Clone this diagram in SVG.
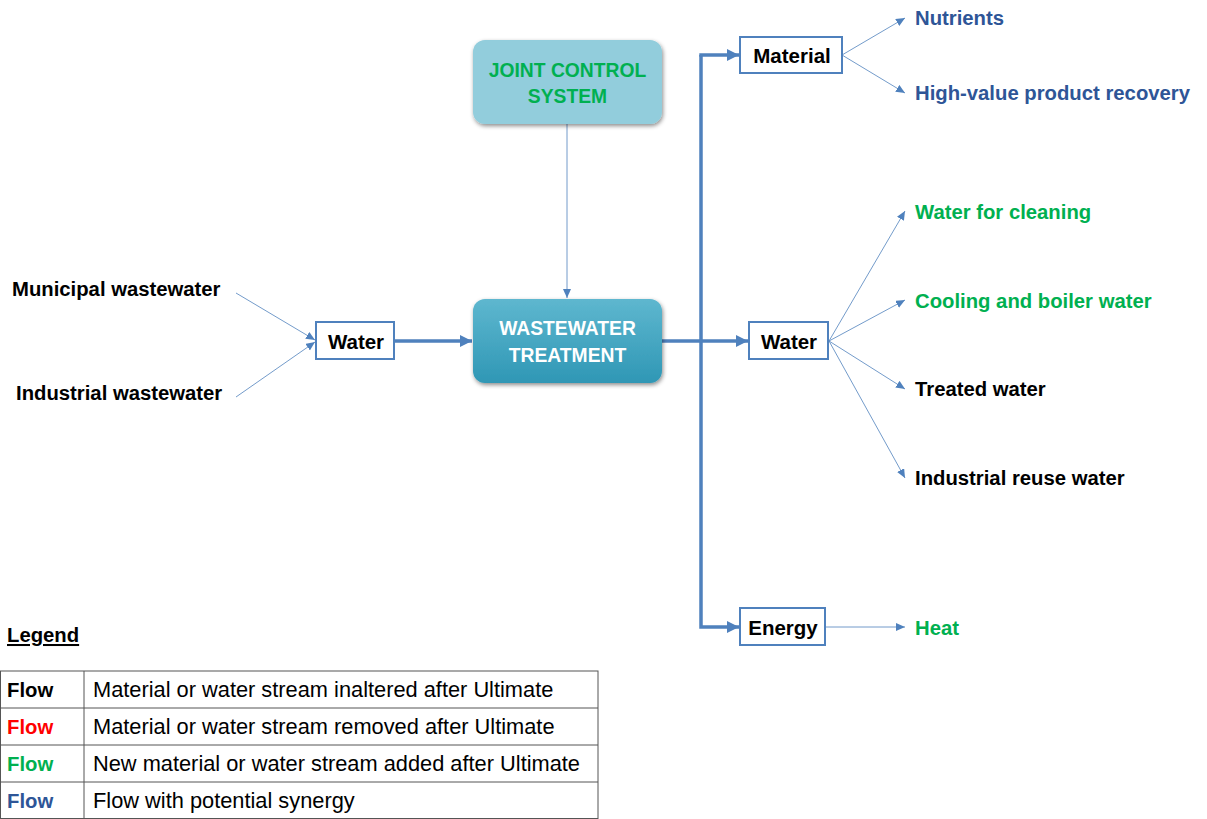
<svg xmlns="http://www.w3.org/2000/svg" width="1207" height="819" viewBox="0 0 1207 819">
<style>
text{font-family:"Liberation Sans",Arial,sans-serif;}
.lbl{font-size:20.3px;font-weight:bold;fill:#000;}
.bx{font-size:20.5px;font-weight:bold;fill:#000;}
.ctr{font-size:19.3px;font-weight:bold;}
.blue{fill:#2E5597;}
.green{fill:#00B050;}
.red{fill:#FF0000;}
.box{fill:#fff;stroke:#4F81BD;stroke-width:2;}
.thin{stroke:#4F81BD;stroke-width:0.8;fill:none;marker-end:url(#sa);}
.thick{stroke:#4F81BD;stroke-width:3.5;fill:none;}
.leg{font-size:21.8px;fill:#000;}
.grid{stroke:#555;stroke-width:1;fill:none;}
</style>
<defs>
<marker id="sa" markerUnits="userSpaceOnUse" markerWidth="10" markerHeight="10" refX="9" refY="4" orient="auto"><path d="M0,0 L9,4 L0,8 z" fill="#4F81BD"/></marker>
<marker id="la" markerUnits="userSpaceOnUse" markerWidth="14" markerHeight="14" refX="12" refY="6" orient="auto"><path d="M0,0 L12,6 L0,12 z" fill="#4F81BD"/></marker>
<linearGradient id="wt" x1="0" y1="0" x2="0" y2="1"><stop offset="0" stop-color="#5EB7CF"/><stop offset="1" stop-color="#2F97B5"/></linearGradient>
<filter id="sh" x="-10%" y="-10%" width="120%" height="130%"><feDropShadow dx="1" dy="2" stdDeviation="2" flood-color="#000" flood-opacity="0.45"/></filter>
</defs>

<g id="connectors">
<line class="thin" x1="567" y1="124" x2="567" y2="298"/>
<line class="thin" x1="236" y1="293" x2="315" y2="340"/>
<line class="thin" x1="236" y1="397" x2="315" y2="342"/>
<line class="thick" x1="394" y1="341" x2="472" y2="341" marker-end="url(#la)"/>
<line class="thick" x1="662" y1="341" x2="748" y2="341" marker-end="url(#la)"/>
<polyline class="thick" points="701,55 701,627 739,627" marker-end="url(#la)"/>
<line class="thick" x1="699.3" y1="55" x2="739" y2="55" marker-end="url(#la)"/>
<line class="thin" x1="842" y1="55" x2="905" y2="18"/>
<line class="thin" x1="842" y1="55" x2="905" y2="93"/>
<line class="thin" x1="829" y1="341" x2="905" y2="211"/>
<line class="thin" x1="829" y1="341" x2="905" y2="300"/>
<line class="thin" x1="829" y1="341" x2="905" y2="389"/>
<line class="thin" x1="829" y1="341" x2="905" y2="478"/>
<line class="thin" x1="826" y1="627" x2="905" y2="627"/>
</g>

<g id="joint-control">
<rect x="473" y="40" width="189" height="84" rx="12" fill="#92CDDC" filter="url(#sh)"/>
<text x="567.5" y="77" text-anchor="middle" class="ctr green">JOINT CONTROL</text>
<text x="567.5" y="103" text-anchor="middle" class="ctr green">SYSTEM</text>
</g>

<g id="wastewater-treatment">
<rect x="473" y="299" width="189" height="84" rx="12" fill="url(#wt)" filter="url(#sh)"/>
<text x="567.5" y="335" text-anchor="middle" class="ctr" style="fill:#fff">WASTEWATER</text>
<text x="567.5" y="362" text-anchor="middle" class="ctr" style="fill:#fff">TREATMENT</text>
</g>

<g id="municipal"><text x="12" y="296" class="lbl">Municipal wastewater</text></g>
<g id="industrial"><text x="16" y="400" class="lbl">Industrial wastewater</text></g>

<g id="water-in">
<rect class="box" x="316" y="322" width="78" height="37"/>
<text x="356" y="348.5" text-anchor="middle" class="bx">Water</text>
</g>

<g id="material">
<rect class="box" x="740" y="37" width="102" height="36"/>
<text x="792" y="62.5" text-anchor="middle" class="bx">Material</text>
</g>

<g id="water-out">
<rect class="box" x="749" y="322" width="79" height="37"/>
<text x="789" y="348.5" text-anchor="middle" class="bx">Water</text>
</g>

<g id="energy">
<rect class="box" x="740" y="608" width="85" height="37"/>
<text x="783" y="634.5" text-anchor="middle" class="bx">Energy</text>
</g>

<g id="nutrients"><text x="915" y="25" class="lbl blue">Nutrients</text></g>
<g id="high-value"><text x="915" y="100" class="lbl blue">High-value product recovery</text></g>
<g id="water-cleaning"><text x="915" y="219" class="lbl green">Water for cleaning</text></g>
<g id="cooling"><text x="915" y="308" class="lbl green">Cooling and boiler water</text></g>
<g id="treated"><text x="915" y="396" class="lbl">Treated water</text></g>
<g id="industrial-reuse"><text x="915" y="485" class="lbl">Industrial reuse water</text></g>
<g id="heat"><text x="915" y="635" class="lbl green">Heat</text></g>

<g id="legend">
<text x="7" y="642" class="lbl" text-decoration="underline">Legend</text>
<rect class="grid" x="0.5" y="671" width="597.5" height="147.5"/>
<line class="grid" x1="84" y1="671" x2="84" y2="819"/>
<line class="grid" x1="0" y1="708" x2="598" y2="708"/>
<line class="grid" x1="0" y1="745" x2="598" y2="745"/>
<line class="grid" x1="0" y1="782" x2="598" y2="782"/>
<text x="7" y="697" class="lbl">Flow</text>
<text x="7" y="734" class="lbl red">Flow</text>
<text x="7" y="771" class="lbl green">Flow</text>
<text x="7" y="808" class="lbl blue">Flow</text>
<text x="93" y="697" class="leg">Material or water stream inaltered after Ultimate</text>
<text x="93" y="734" class="leg">Material or water stream removed after Ultimate</text>
<text x="93" y="771" class="leg">New material or water stream added after Ultimate</text>
<text x="93" y="808" class="leg">Flow with potential synergy</text>
</g>
</svg>
